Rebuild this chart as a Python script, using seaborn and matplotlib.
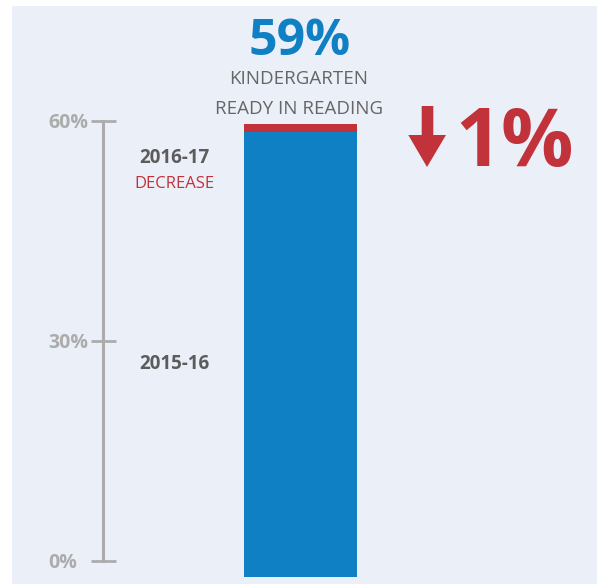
import matplotlib
matplotlib.use("Agg")
import matplotlib.pyplot as plt
import seaborn as sns
import pandas as pd
from matplotlib.patches import Rectangle, Polygon

# ---- data ----
years = ["2015-16", "2016-17"]
values = [60, 59]          # % kindergarten ready in reading
change_label = "1%"
axis_ticks = [0, 30, 60]
axis_tick_labels = ["0%", "30%", "60%"]
headline = "59%"
subtitle = ["KINDERGARTEN", "READY IN READING"]

# ---- style ----
sns.set_style("white")
plt.rcParams["font.family"] = ["Open Sans", "DejaVu Sans"]

BLUE = "#0f80c4"
RED = "#c1323a"
PANEL = "#ebeff8"
GRAY_AX = "#acacac"
GRAY_TXT = "#666666"
DARK_TXT = "#5c5c5c"

W, H = 607, 584
fig = plt.figure(figsize=(W / 100, H / 100), dpi=100, facecolor="white")

def fx(px):
    return px / W

def fy(py):
    return 1 - py / H

# panel background
fig.patches.append(Rectangle((fx(12), 0), fx(597) - fx(12), fy(6), transform=fig.transFigure,
                             facecolor=PANEL, edgecolor="none", zorder=-10))

# ---- bar axes ----
ax_bar = fig.add_axes([fx(244), fy(577), fx(357) - fx(244), (577 - 124) / H])
ax_bar.set_zorder(2)
df_prev = pd.DataFrame({"cat": ["reading"], "value": [values[0]]})
df_cur = pd.DataFrame({"cat": ["reading"], "value": [values[1]]})
sns.barplot(data=df_prev, x="cat", y="value", color=RED, saturation=1, width=1, linewidth=0, ax=ax_bar)
sns.barplot(data=df_cur, x="cat", y="value", color=BLUE, saturation=1, width=1, linewidth=0, ax=ax_bar)
ax_bar.set_xlim(-0.5, 0.5)
ax_bar.set_ylim(0, max(values))
ax_bar.axis("off")

# ---- scale axes ----
ax_s = fig.add_axes([fx(102.7), fy(560.7), 0.001, 440 / H])
ax_s.set_zorder(2)
ax_s.set_facecolor("none")
ax_s.set_ylim(0, 60)
ax_s.set_xlim(0, 1)
for s in ["top", "right", "bottom"]:
    ax_s.spines[s].set_visible(False)
ax_s.spines["left"].set_color(GRAY_AX)
ax_s.spines["left"].set_linewidth(2.2)
ax_s.set_xticks([])
ax_s.tick_params(axis="y", direction="inout", length=18, width=2, color=GRAY_AX,
                 pad=30, left=True)
ax_s.set_yticks(axis_ticks)
ax_s.set_yticklabels(axis_tick_labels, fontsize=14, fontweight="bold", color=GRAY_AX,
                     ha="left")

# ---- texts ----
fig.text(fx(300), fy(55), headline, color=BLUE, fontsize=36, fontweight="bold",
         ha="center", va="baseline")
fig.text(fx(299), fy(84), subtitle[0], color=GRAY_TXT, fontsize=13.5, ha="center", va="baseline")
fig.text(fx(299), fy(114), subtitle[1], color=GRAY_TXT, fontsize=13.5, ha="center", va="baseline")

fig.text(fx(174), fy(163.3), years[1], color=DARK_TXT, fontsize=13.5, fontweight="bold",
         ha="center", va="baseline")
fig.text(fx(174), fy(188.3), "DECREASE", color=RED, fontsize=12, ha="center", va="baseline")
fig.text(fx(174), fy(369.3), years[0], color=DARK_TXT, fontsize=13.5, fontweight="bold",
         ha="center", va="baseline")

fig.text(fx(455), fy(166), change_label, color=RED, fontsize=58, fontweight="bold",
         ha="left", va="baseline")

# down arrow
arrow_pts = [(421.7, 106), (433.3, 106), (433.3, 135), (446, 135), (427, 167),
             (408.3, 135), (421.7, 135)]
fig.patches.append(Polygon([(fx(x), fy(y)) for x, y in arrow_pts], closed=True,
                           transform=fig.transFigure, facecolor=RED, edgecolor="none", zorder=3))

fig.savefig("out.png", dpi=100, facecolor="white")
